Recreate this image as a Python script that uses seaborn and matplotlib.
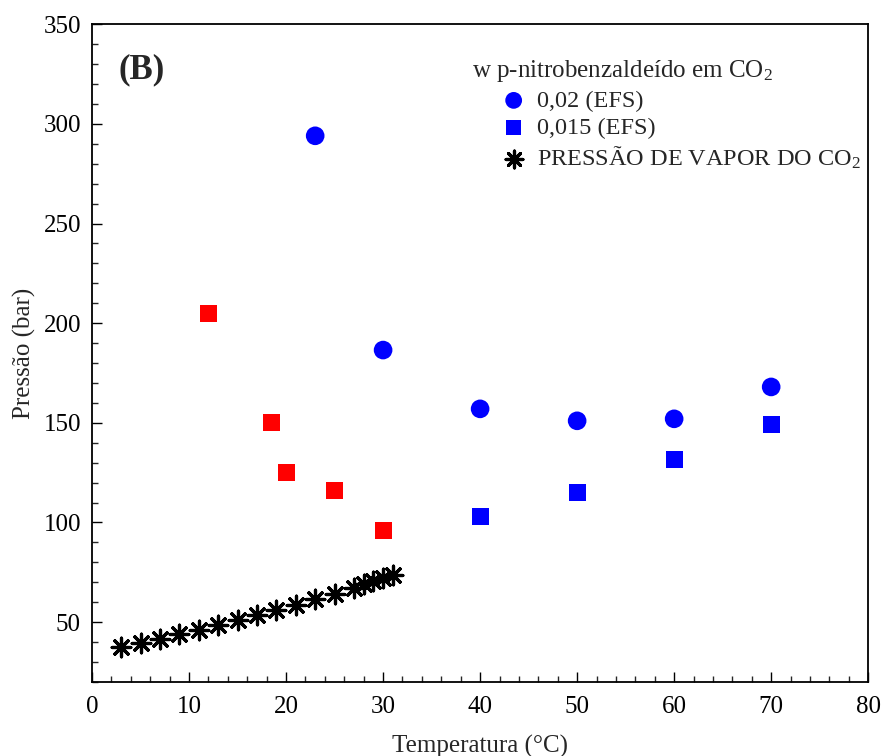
import matplotlib
matplotlib.use("Agg")
import matplotlib.pyplot as plt
import seaborn as sns
import pandas as pd
from matplotlib.ticker import MultipleLocator

# Data
t_circ = [23, 30, 40, 50, 60, 70]
p_circ = [294, 186.5, 157, 151, 152, 168]
t_sq_blue = [40, 50, 60, 70]
p_sq_blue = [103, 115, 131.5, 149]
t_sq_red = [12, 18.5, 20, 25, 30]
p_sq_red = [205, 150, 125, 116, 96]
t_vap = [3, 5, 7, 9, 11, 13, 15, 17, 19, 21, 23, 25, 27, 28, 29, 30, 31]
p_vap = [37.6, 39.7, 41.7, 43.9, 46.2, 48.5, 50.9, 53.4, 56.0, 58.7, 61.4, 64.3, 67.3, 68.9, 70.5, 72.1, 73.8]

legend_title = "w p-nitrobenzaldeído em CO$_2$"
lab_circ = "0,02 (EFS)"
lab_sq = "0,015 (EFS)"
lab_vap = "PRESSÃO DE VAPOR DO CO$_2$"

sns.set_theme(style="ticks")
plt.rcParams['font.family'] = ['Liberation Serif', 'DejaVu Serif']
plt.rcParams['mathtext.fontset'] = 'custom'
plt.rcParams['mathtext.rm'] = 'Liberation Serif'
plt.rcParams['mathtext.it'] = 'Liberation Serif:italic'

fig = plt.figure(figsize=(8.85, 7.56), dpi=100)
ax = fig.add_axes([0.104, 0.098, 0.877, 0.870])

df_c = pd.DataFrame({"T": t_circ, "P": p_circ})
df_b = pd.DataFrame({"T": t_sq_blue, "P": p_sq_blue})
df_r = pd.DataFrame({"T": t_sq_red, "P": p_sq_red})
df_v = pd.DataFrame({"T": t_vap, "P": p_vap})

sns.scatterplot(data=df_c, x="T", y="P", marker="o", s=180, color="#0000ff",
                edgecolor="none", ax=ax, label=lab_circ, zorder=3)
sns.scatterplot(data=df_b, x="T", y="P", marker="s", s=150, color="#0000ff",
                edgecolor="none", ax=ax, label=lab_sq, zorder=3)
sns.scatterplot(data=df_r, x="T", y="P", marker="s", s=150, color="#ff0000",
                edgecolor="none", ax=ax, zorder=3)
sns.scatterplot(data=df_v, x="T", y="P", marker=(8, 2, 0), s=180, color="black",
                edgecolor="black", linewidth=2.3, ax=ax, label=lab_vap, zorder=3)

ax.set_xlim(0, 80)
ax.set_ylim(20, 350)
ax.xaxis.set_major_locator(MultipleLocator(10))
ax.xaxis.set_minor_locator(MultipleLocator(2))
ax.yaxis.set_major_locator(MultipleLocator(50))
ax.yaxis.set_minor_locator(MultipleLocator(10))
ax.set_yticks([50, 100, 150, 200, 250, 300, 350])
ax.tick_params(axis="both", which="major", direction="in", length=7, width=1,
               labelsize=18, colors="black", top=False, right=False)
ax.tick_params(axis="both", which="minor", direction="in", length=4, width=1,
               top=False, right=False)
ax.tick_params(axis="x", which="major", pad=10)
ax.tick_params(axis="y", which="major", pad=8)
for sp in ax.spines.values():
    sp.set_visible(True)
    sp.set_linewidth(1.3)
    sp.set_color("black")

ax.set_xlabel("Temperatura (°C)", fontsize=18, labelpad=12)
ax.set_ylabel("Pressão (bar)", fontsize=18, labelpad=5)

ax.text(0.034, 0.93, "(B)", transform=ax.transAxes, fontsize=25, fontweight="bold",
        va="center", ha="left")

leg = ax.legend(title=legend_title, loc="upper left", bbox_to_anchor=(0.49, 0.948),
                frameon=False, fontsize=17.5, title_fontsize=18, handlelength=3.4,
                handletextpad=-0.72, labelspacing=0.22, borderaxespad=0.0,
                borderpad=0.0, markerscale=0.9)
leg._legend_box.align = "left"

fig.savefig("out.png", dpi=100)
